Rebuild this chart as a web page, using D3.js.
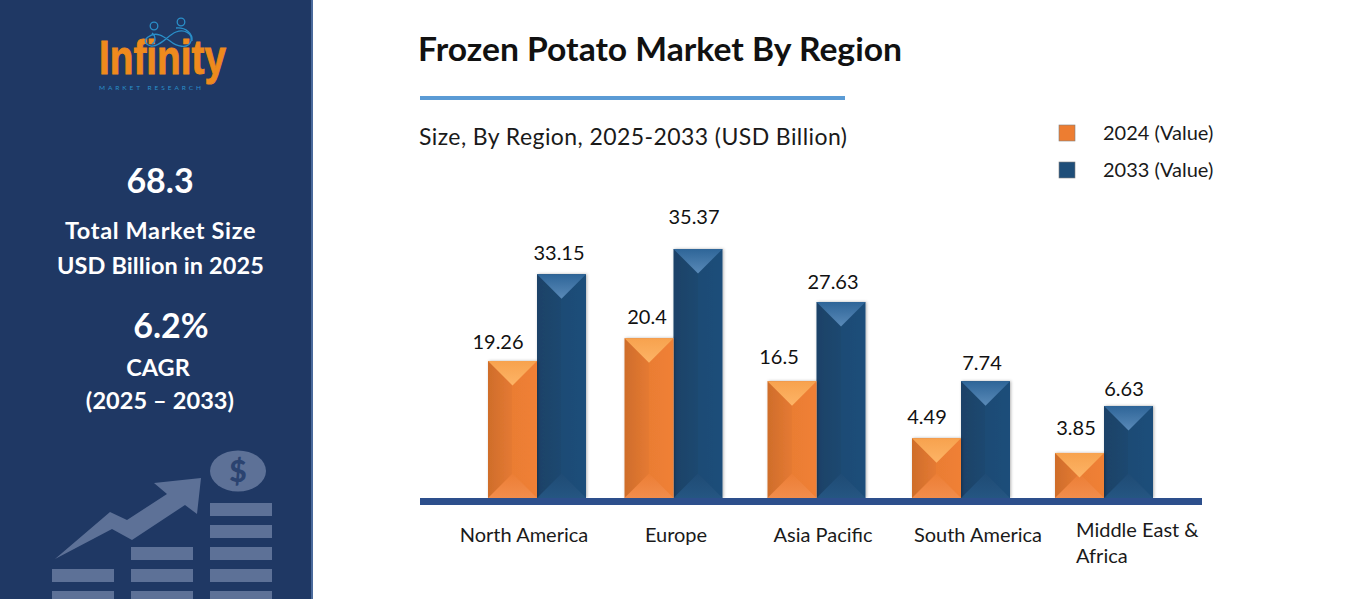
<!DOCTYPE html>
<html><head><meta charset="utf-8">
<script src="https://cdn.jsdelivr.net/npm/d3@7/dist/d3.min.js"></script>
<style>html,body{margin:0;padding:0;background:#fff;overflow:hidden}svg{display:block;font-family:Lato,"Open Sans",sans-serif}</style>
</head><body><svg id="c" width="1357" height="599"></svg>
<script>
const categories = ["North America","Europe","Asia Pacific","South America","Middle East & Africa"];
const seriesNames = ["2024 (Value)","2033 (Value)"];
// printed labels
const labels2024 = ["19.26","20.4","16.5","4.49","3.85"];
const labels2033 = ["33.15","35.37","27.63","7.74","6.63"];
// bar heights as drawn in the picture (not proportional to the printed labels in the reference)
const drawn2024 = [19.46,22.7,16.6,8.5,6.4];
const drawn2033 = [31.8,35.37,27.84,16.6,13.07];

const svg = d3.select("#c");
const defs = svg.append("defs");
function grad(id,stops,x2,y2){
  const g=defs.append("linearGradient").attr("id",id).attr("x1",0).attr("y1",0).attr("x2",x2).attr("y2",y2);
  stops.forEach(s=>g.append("stop").attr("offset",s[0]).attr("stop-color",s[1]));
}
grad("oBody",[[0,"#cf6d2b"],[.5,"#e57a32"],[.5,"#ea7d33"],[1,"#f08035"]],1,0);
grad("oTop",[[0,"#f7a24e"],[1,"#fdb466"]],0,1);
grad("oBot",[[0,"#ec7e35"],[1,"#f28d4c"]],0,1);
grad("bBody",[[0,"#1a4268"],[.5,"#1d4870"],[.5,"#1f4b75"],[1,"#1f4e7a"]],1,0);
grad("bTop",[[0,"#2e6598"],[1,"#5a8ab8"]],0,1);
grad("bBot",[[0,"#1f4b75"],[1,"#255682"]],0,1);
const blur=defs.append("filter").attr("id","sh").attr("x","-20%").attr("y","-5%").attr("width","140%").attr("height","110%");
blur.append("feDropShadow").attr("dx",1).attr("dy",0).attr("stdDeviation",1.5).attr("flood-color","#000").attr("flood-opacity",.3);

/* ---------- sidebar ---------- */
svg.append("rect").attr("width",311).attr("height",599).attr("fill","#1f3864");
svg.append("rect").attr("x",311).attr("width",2).attr("height",599).attr("fill","#4a6a9c");

// logo
const logo=svg.append("g");
logo.append("text").attr("x",99).attr("y",74).attr("textLength",127).attr("lengthAdjust","spacingAndGlyphs")
  .attr("font-family","'Liberation Sans',sans-serif").attr("font-weight",700).attr("font-size",48)
  .attr("fill","#ee8a1d").attr("stroke","#ee8a1d").attr("stroke-width",.9).text("Infinity");
logo.append("text").attr("x",99).attr("y",89.5).attr("textLength",102).attr("font-size",6.5).attr("fill","#2a8fc9").text("MARKET RESEARCH");
const knot=logo.append("g").attr("fill","none").attr("stroke","#2a8fc9").attr("stroke-width",1.3);
knot.append("circle").attr("cx",154).attr("cy",26).attr("r",3.8);
knot.append("circle").attr("cx",181).attr("cy",22).attr("r",3.8);
knot.append("path").attr("d","M148 37C156 31 163 36 170 41C176 46 188 50 191 41C193 33 184 29 176 32C168 35 160 47 151 46C144 44 144 40 148 37Z");
knot.append("path").attr("d","M152 33C156 36 156 42 152 44M176 28C186 27 193 34 192 41");

// side text
const side=[
 ["68.3",160,193,34,0],["Total Market Size",160.5,239,23.5,.65],["USD Billion in 2025",160.5,274,23.5,.12],
 ["6.2%",171,338,34,0],["CAGR",158,376,23.5,0],["(2025 – 2033)",160,409,23.5,.1]];
svg.append("g").selectAll("text").data(side).join("text")
  .attr("x",d=>d[1]).attr("y",d=>d[2]).attr("font-size",d=>d[3]).attr("font-weight",700)
  .attr("letter-spacing",d=>d[4]).attr("text-anchor","middle").attr("fill","#fff").text(d=>d[0]);

// decorative icon
const ic=svg.append("g").attr("fill","#5d7197");
[[52,569],[52,591],[131,547],[131,569],[131,591],[210,503],[210,525],[210,547],[210,569],[210,591]].forEach(p=>{
  ic.append("rect").attr("x",p[0]).attr("y",p[1]).attr("width",62).attr("height",13);
});
ic.append("path").attr("d","M55 559L110 512L127 520L167 494L154 483L201 478L197 514L185 505L132 540L112 529Z");
ic.append("ellipse").attr("cx",238).attr("cy",471).attr("rx",28).attr("ry",20.5);
svg.append("text").attr("x",238).attr("y",482).attr("text-anchor","middle").attr("font-size",30).attr("font-weight",900).attr("fill","#2b4370").text("$");

/* ---------- headings ---------- */
svg.append("text").attr("x",418).attr("y",61).attr("font-size",33).attr("font-weight",700)
  .attr("textLength",484).attr("lengthAdjust","spacingAndGlyphs").attr("fill","#111").text("Frozen Potato Market By Region");
svg.append("rect").attr("x",420).attr("y",96).attr("width",425).attr("height",4).attr("fill","#5b9bd5");
svg.append("text").attr("x",419).attr("y",145).attr("font-size",23).attr("letter-spacing",.42)
  .attr("fill","#1a1a1a").text("Size, By Region, 2025-2033 (USD Billion)");

/* ---------- legend ---------- */
const legendY=d3.scalePoint().domain(seriesNames).range([133,170]);
const legendFill=d3.scaleOrdinal().domain(seriesNames).range(["#ed7d31","#1f4e79"]);
const lg=svg.append("g").selectAll("g").data(seriesNames).join("g");
lg.append("rect").attr("x",1059).attr("y",d=>legendY(d)-8).attr("width",16).attr("height",16)
  .attr("fill",legendFill).attr("stroke","#7f7f7f").attr("stroke-width",.6);
lg.append("text").attr("x",1103).attr("y",d=>legendY(d)+6.5).attr("font-size",20).attr("fill","#1a1a1a").text(d=>d);

/* ---------- bars ---------- */
const baseY=498, barW=49;
const y=d3.scaleLinear().domain([0,35.37]).range([baseY,249]);
const xc=d3.scaleOrdinal().domain(categories).range([537,673.5,816.5,961,1104]);
const rows=categories.map((c,i)=>({c,i}));
function drawSeries(vals,off,tag){
  const g=svg.append("g").selectAll("g").data(rows).join("g");
  const X=d=>xc(d.c)+off;
  const T=d=>y(vals[d.i]);
  const tri=barW/2;
  g.append("rect").attr("x",X).attr("y",T).attr("width",barW).attr("height",d=>baseY-T(d))
    .attr("fill",`url(#${tag}Body)`).attr("filter","url(#sh)");
  g.append("path").attr("fill",`url(#${tag}Bot)`)
    .attr("d",d=>`M${X(d)} ${baseY}L${X(d)+tri} ${baseY-tri}L${X(d)+barW} ${baseY}Z`);
  g.append("path").attr("fill",`url(#${tag}Top)`)
    .attr("d",d=>`M${X(d)} ${T(d)}L${X(d)+barW} ${T(d)}L${X(d)+tri} ${T(d)+tri}Z`);
}
drawSeries(drawn2033,0,"b");
drawSeries(drawn2024,-barW,"o");

// value labels
const lblX24=d3.scaleOrdinal().domain(categories).range([498,647,779,927,1076]);
const lblX33=d3.scaleOrdinal().domain(categories).range([559,694,833,982,1124]);
const lblGap24=d3.scaleOrdinal().domain(categories).range([12,14,17,14,18]);
const lblGap33=d3.scaleOrdinal().domain(categories).range([14,25,13,11,10]);
function valueLabels(vals,labs,sx,gap){
  svg.append("g").selectAll("text").data(rows).join("text")
    .attr("x",d=>sx(d.c)).attr("y",d=>y(vals[d.i])-gap(d.c))
    .attr("text-anchor","middle").attr("font-size",20).attr("fill","#111").text(d=>labs[d.i]);
}
valueLabels(drawn2024,labels2024,lblX24,lblGap24);
valueLabels(drawn2033,labels2033,lblX33,lblGap33);

// baseline
svg.append("rect").attr("x",420).attr("y",498).attr("width",782).attr("height",7).attr("fill","#2d4f8c");

// category labels
const catX=d3.scaleOrdinal().domain(categories).range([524,676,823,978,1137]);
svg.append("g").selectAll("text").data(categories.slice(0,4)).join("text")
  .attr("x",d=>catX(d)).attr("y",542).attr("text-anchor","middle").attr("font-size",20).attr("fill","#1a1a1a").text(d=>d);
const mea=svg.append("text").attr("font-size",20).attr("fill","#1a1a1a");
mea.append("tspan").attr("x",1076).attr("y",537).text("Middle East &");
mea.append("tspan").attr("x",1076).attr("y",563).text("Africa");
</script></body></html>
